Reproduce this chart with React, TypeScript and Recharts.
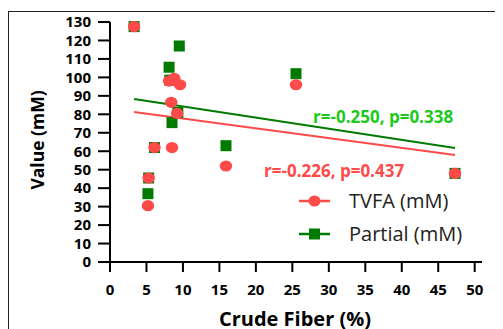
import React from "react"
import { ScatterChart, Scatter, XAxis, YAxis } from "recharts"

// TVFA (red circles)
const tvfaFiber = [3.3, 8.1, 8.8, 9.6, 8.4, 9.2, 6.1, 8.5, 5.3, 5.2, 15.9, 25.5, 47.3]
const tvfaValue = [127.5, 98, 99.5, 96, 86.5, 80.5, 62, 62, 45.5, 30.5, 52, 96, 48]

// Partial (green squares)
const partialFiber = [3.3, 9.5, 8.1, 8.2, 9.3, 8.5, 6.1, 5.3, 5.2, 15.9, 25.5, 47.3]
const partialValue = [127.5, 117, 105.5, 98.5, 81, 75.5, 62, 45.5, 37, 63, 102, 48]

// regression lines (end points)
const tvfaTrendX = [3.3, 47.3]
const tvfaTrendY = [81.2, 58]
const partialTrendX = [3.3, 47.3]
const partialTrendY = [88.3, 61.7]

const xTicks = [0, 5, 10, 15, 20, 25, 30, 35, 40, 45, 50]
const yTicks = [0, 10, 20, 30, 40, 50, 60, 70, 80, 90, 100, 110, 120, 130]

const RED = "#ff4a4a"
const GREEN = "#007a00"
const GREEN_TEXT = "#1ec81e"
const FONT = "'Open Sans', sans-serif"

const zip = (xs: number[], ys: number[]) => xs.map((x, i) => ({ x, y: ys[i] }))

const tvfaData = zip(tvfaFiber, tvfaValue)
const partialData = zip(partialFiber, partialValue)
const tvfaTrend = zip(tvfaTrendX, tvfaTrendY)
const partialTrend = zip(partialTrendX, partialTrendY)

const Square = (props: any) => {
  const { cx, cy } = props
  return <rect x={cx - 5.5} y={cy - 5.5} width={11} height={11} fill={GREEN} />
}

const Dot = (props: any) => {
  const { cx, cy } = props
  return <ellipse cx={cx} cy={cy} rx={6.2} ry={5.6} fill={RED} />
}

const NoShape = () => <g />

export default function App() {
  return (
    <div style={{ paddingTop: 3 }}>
      <div style={{ position: "relative", width: 495, height: 318 }}>
        <div
          style={{
            position: "absolute",
            left: 0,
            top: 0,
            width: 495,
            height: 318,
            borderTop: "1.5px solid #222",
            borderLeft: "1.5px solid #222",
            boxSizing: "border-box",
          }}
        />
        <ScatterChart width={495} height={318} margin={{ top: 11, right: 21, left: 0, bottom: 0 }}>
          <XAxis
            type="number"
            dataKey="x"
            domain={[0, 51]}
            ticks={xTicks}
            interval={0}
            height={67}
            tickSize={10}
            tickMargin={12}
            axisLine={{ stroke: "#000", strokeWidth: 2 }}
            tickLine={{ stroke: "#000", strokeWidth: 2 }}
            tick={{ fill: "#000", fontSize: 15, fontWeight: 700, fontFamily: FONT }}
            label={() => (
              <text
                x={287}
                y={315}
                textAnchor="middle"
                fontFamily={FONT}
                fontSize={20}
                fontWeight={700}
                fill="#000"
              >
                Crude Fiber (%)
              </text>
            )}
          />
          <YAxis
            type="number"
            dataKey="y"
            domain={[0, 130]}
            ticks={yTicks}
            interval={0}
            width={102}
            tickSize={12}
            tickMargin={7}
            axisLine={{ stroke: "#000", strokeWidth: 2 }}
            tickLine={{ stroke: "#000", strokeWidth: 2 }}
            tick={{ fill: "#000", fontSize: 15, fontWeight: 700, fontFamily: FONT }}
            label={() => (
              <text
                x={29}
                y={129}
                transform="rotate(-90 29 129)"
                textAnchor="middle"
                dominantBaseline="central"
                fontFamily={FONT}
                fontSize={17.5}
                fontWeight={700}
                fill="#000"
              >
                Value (mM)
              </text>
            )}
          />
          <Scatter
            name="tvfa-trend"
            data={tvfaTrend}
            line={{ stroke: RED, strokeWidth: 2 }}
            shape={NoShape}
            legendType="none"
            isAnimationActive={false}
          />
          <Scatter
            name="partial-trend"
            data={partialTrend}
            line={{ stroke: GREEN, strokeWidth: 2 }}
            shape={NoShape}
            legendType="none"
            isAnimationActive={false}
          />
          <Scatter name="Partial (mM)" data={partialData} shape={Square} isAnimationActive={false} />
          <Scatter name="TVFA (mM)" data={tvfaData} shape={Dot} isAnimationActive={false} />
        </ScatterChart>
        <svg
          width={495}
          height={318}
          style={{ position: "absolute", left: 0, top: 0, pointerEvents: "none" }}
        >
          <text x={305} y={112} fontFamily={FONT} fontSize={17} fontWeight={700} fill={GREEN_TEXT}>
            r=-0.250, p=0.338
          </text>
          <text x={256} y={166} fontFamily={FONT} fontSize={17} fontWeight={700} fill={RED}>
            r=-0.226, p=0.437
          </text>
          <g transform="translate(291,174)">
            <line x1={0} y1={16} x2={31} y2={16} stroke={RED} strokeWidth={2.5} />
            <ellipse cx={15.5} cy={16} rx={6} ry={5.5} fill={RED} />
            <text x={50} y={23} fontFamily={FONT} fontSize={20} fill="#222">
              TVFA (mM)
            </text>
            <line x1={0} y1={49} x2={31} y2={49} stroke={GREEN} strokeWidth={2.5} />
            <rect x={10} y={43.5} width={11} height={11} fill={GREEN} />
            <text x={50} y={56} fontFamily={FONT} fontSize={20} fill="#222">
              Partial (mM)
            </text>
          </g>
        </svg>
      </div>
    </div>
  )
}
